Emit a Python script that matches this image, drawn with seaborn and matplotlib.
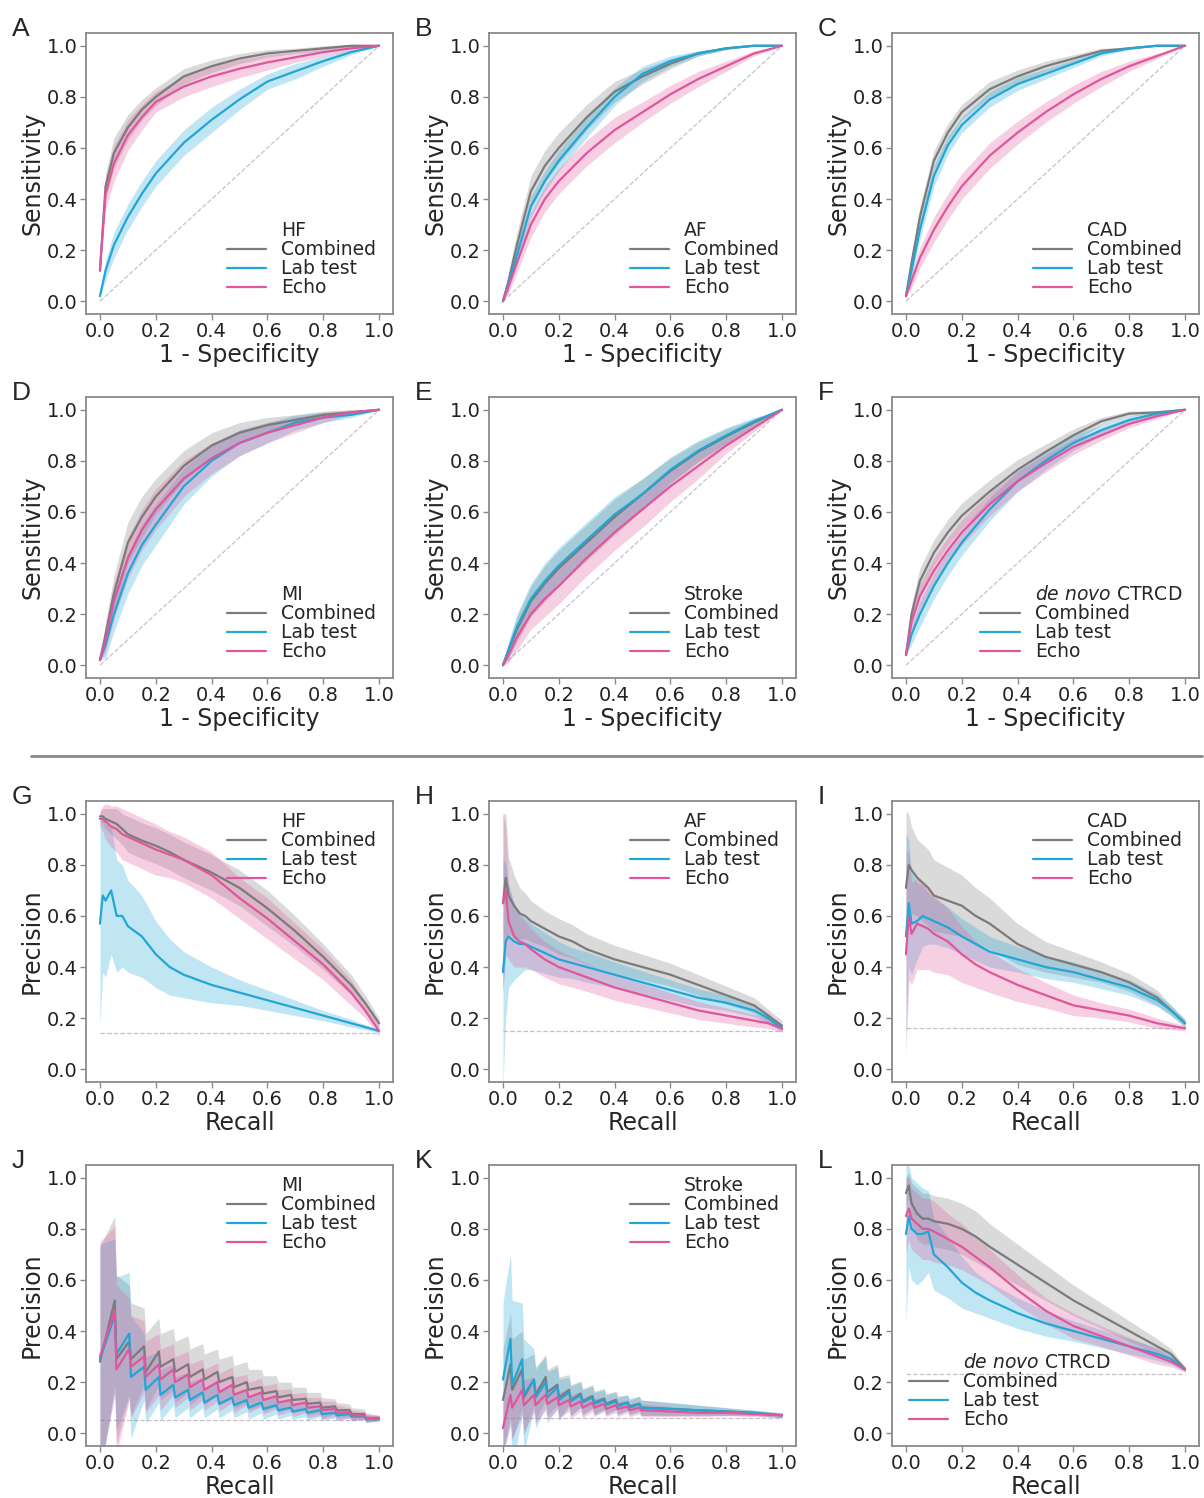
import numpy as np
import pandas as pd
import matplotlib
matplotlib.use("Agg")
import matplotlib.pyplot as plt
import seaborn as sns
from matplotlib.lines import Line2D

sns.set_theme(style="ticks")
plt.rcParams['font.family'] = ['DejaVu Sans']
plt.rcParams['mathtext.fontset'] = 'dejavusans'

# ---------------- data ----------------
SERIES = ["Combined", "Lab test", "Echo"]
COLORS = {"Combined": "#7b7b7b", "Lab test": "#22a6d6", "Echo": "#e0569c"}

ROC_X = [0, 0.02, 0.05, 0.1, 0.15, 0.2, 0.3, 0.4, 0.5, 0.6, 0.7, 0.8, 0.9, 1.0]

# Panel A - HF ROC
A_COMB = [0.12, 0.45, 0.58, 0.68, 0.75, 0.80, 0.88, 0.92, 0.95, 0.97, 0.98, 0.99, 1.0, 1.0]
A_LAB = [0.02, 0.12, 0.22, 0.33, 0.42, 0.50, 0.62, 0.71, 0.79, 0.86, 0.90, 0.94, 0.975, 1.0]
A_ECHO = [0.12, 0.42, 0.54, 0.65, 0.72, 0.78, 0.84, 0.88, 0.91, 0.935, 0.955, 0.975, 0.99, 1.0]
A_COMB_HW = [0, 0.05, 0.06, 0.05, 0.04, 0.035, 0.03, 0.025, 0.02, 0.015, 0.01, 0.01, 0.005, 0]
A_LAB_HW = [0, 0.04, 0.05, 0.05, 0.05, 0.05, 0.05, 0.05, 0.04, 0.03, 0.03, 0.02, 0.01, 0]
A_ECHO_HW = [0, 0.06, 0.07, 0.06, 0.05, 0.04, 0.04, 0.04, 0.035, 0.03, 0.02, 0.015, 0.01, 0]

# Panel B - AF ROC
B_COMB = [0.0, 0.08, 0.22, 0.43, 0.53, 0.60, 0.72, 0.82, 0.88, 0.93, 0.97, 0.99, 1.0, 1.0]
B_LAB = [0.0, 0.07, 0.18, 0.37, 0.47, 0.55, 0.68, 0.80, 0.89, 0.94, 0.97, 0.99, 1.0, 1.0]
B_ECHO = [0.0, 0.06, 0.15, 0.30, 0.40, 0.47, 0.58, 0.67, 0.74, 0.81, 0.87, 0.92, 0.97, 1.0]
B_COMB_HW = [0, 0.03, 0.05, 0.06, 0.06, 0.06, 0.05, 0.04, 0.03, 0.02, 0.01, 0.005, 0, 0]
B_LAB_HW = [0, 0.03, 0.04, 0.04, 0.04, 0.04, 0.04, 0.035, 0.03, 0.02, 0.01, 0.005, 0, 0]
B_ECHO_HW = [0, 0.03, 0.04, 0.05, 0.05, 0.05, 0.05, 0.05, 0.04, 0.035, 0.03, 0.02, 0.01, 0]

# Panel C - CAD ROC
C_COMB = [0.02, 0.15, 0.33, 0.55, 0.66, 0.74, 0.83, 0.88, 0.92, 0.95, 0.98, 0.99, 1.0, 1.0]
C_LAB = [0.02, 0.12, 0.28, 0.49, 0.61, 0.69, 0.79, 0.85, 0.89, 0.93, 0.97, 0.99, 1.0, 1.0]
C_ECHO = [0.02, 0.08, 0.17, 0.28, 0.37, 0.45, 0.57, 0.66, 0.74, 0.81, 0.87, 0.92, 0.96, 1.0]
C_COMB_HW = [0, 0.03, 0.04, 0.04, 0.035, 0.03, 0.03, 0.025, 0.02, 0.015, 0.01, 0.005, 0, 0]
C_LAB_HW = [0, 0.03, 0.04, 0.04, 0.035, 0.03, 0.03, 0.025, 0.02, 0.015, 0.01, 0.005, 0, 0]
C_ECHO_HW = [0, 0.03, 0.04, 0.05, 0.05, 0.05, 0.05, 0.045, 0.04, 0.035, 0.03, 0.02, 0.01, 0]

# Panel D - MI ROC
D_COMB = [0.02, 0.12, 0.28, 0.48, 0.58, 0.66, 0.78, 0.86, 0.91, 0.94, 0.96, 0.98, 0.99, 1.0]
D_LAB = [0.02, 0.08, 0.20, 0.36, 0.47, 0.55, 0.70, 0.80, 0.87, 0.91, 0.95, 0.97, 0.98, 1.0]
D_ECHO = [0.02, 0.10, 0.25, 0.42, 0.53, 0.61, 0.73, 0.81, 0.87, 0.91, 0.94, 0.97, 0.99, 1.0]
D_COMB_HW = [0, 0.05, 0.07, 0.08, 0.08, 0.07, 0.06, 0.05, 0.04, 0.03, 0.02, 0.015, 0.01, 0]
D_LAB_HW = [0, 0.05, 0.07, 0.08, 0.08, 0.08, 0.07, 0.06, 0.05, 0.04, 0.03, 0.02, 0.01, 0]
D_ECHO_HW = [0, 0.05, 0.07, 0.08, 0.08, 0.08, 0.07, 0.06, 0.05, 0.04, 0.03, 0.02, 0.01, 0]

# Panel E - Stroke ROC
E_COMB = [0.0, 0.06, 0.14, 0.25, 0.32, 0.38, 0.48, 0.58, 0.67, 0.76, 0.835, 0.895, 0.95, 1.0]
E_LAB = [0.0, 0.06, 0.15, 0.26, 0.33, 0.39, 0.49, 0.59, 0.67, 0.765, 0.84, 0.90, 0.955, 1.0]
E_ECHO = [0.0, 0.04, 0.11, 0.20, 0.26, 0.31, 0.42, 0.52, 0.61, 0.70, 0.78, 0.86, 0.93, 1.0]
E_COMB_HW = [0, 0.03, 0.05, 0.06, 0.07, 0.07, 0.07, 0.07, 0.06, 0.05, 0.04, 0.03, 0.015, 0]
E_LAB_HW = [0, 0.03, 0.05, 0.06, 0.07, 0.07, 0.07, 0.07, 0.06, 0.05, 0.04, 0.03, 0.015, 0]
E_ECHO_HW = [0, 0.03, 0.05, 0.06, 0.07, 0.07, 0.07, 0.07, 0.07, 0.06, 0.05, 0.03, 0.015, 0]

# Panel F - de novo CTRCD ROC
F_COMB = [0.04, 0.20, 0.33, 0.44, 0.52, 0.585, 0.68, 0.765, 0.835, 0.90, 0.955, 0.985, 0.99, 1.0]
F_LAB = [0.04, 0.12, 0.20, 0.31, 0.40, 0.48, 0.61, 0.72, 0.80, 0.87, 0.92, 0.96, 0.985, 1.0]
F_ECHO = [0.04, 0.17, 0.27, 0.37, 0.45, 0.52, 0.63, 0.72, 0.79, 0.855, 0.90, 0.945, 0.975, 1.0]
F_COMB_HW = [0, 0.04, 0.05, 0.05, 0.05, 0.05, 0.045, 0.04, 0.03, 0.025, 0.015, 0.01, 0.005, 0]
F_LAB_HW = [0, 0.04, 0.05, 0.05, 0.05, 0.05, 0.045, 0.04, 0.035, 0.03, 0.02, 0.015, 0.01, 0]
F_ECHO_HW = [0, 0.04, 0.05, 0.05, 0.05, 0.05, 0.045, 0.04, 0.035, 0.03, 0.02, 0.015, 0.01, 0]

PR_X = [0, 0.01, 0.02, 0.04, 0.06, 0.08, 0.1, 0.15, 0.2, 0.25, 0.3, 0.4, 0.5, 0.6, 0.7, 0.8, 0.9, 0.95, 1.0]

# Panel G - HF PR
G_COMB = [0.99, 0.99, 0.98, 0.97, 0.96, 0.94, 0.92, 0.895, 0.875, 0.85, 0.82, 0.77, 0.71, 0.63, 0.54, 0.44, 0.33, 0.26, 0.18]
G_LAB = [0.57, 0.68, 0.66, 0.70, 0.60, 0.60, 0.56, 0.52, 0.45, 0.40, 0.37, 0.33, 0.30, 0.27, 0.24, 0.21, 0.18, 0.165, 0.15]
G_ECHO = [0.98, 0.98, 0.97, 0.95, 0.94, 0.92, 0.91, 0.885, 0.86, 0.84, 0.82, 0.76, 0.67, 0.59, 0.50, 0.41, 0.30, 0.23, 0.15]
G_COMB_HW = [0.02, 0.03, 0.04, 0.05, 0.06, 0.06, 0.07, 0.07, 0.07, 0.07, 0.07, 0.07, 0.07, 0.07, 0.06, 0.05, 0.04, 0.03, 0.02]
G_LAB_HW = [0.40, 0.30, 0.30, 0.25, 0.22, 0.20, 0.18, 0.16, 0.13, 0.11, 0.09, 0.07, 0.05, 0.04, 0.03, 0.02, 0.015, 0.01, 0.005]
G_ECHO_HW = [0.03, 0.05, 0.07, 0.08, 0.09, 0.10, 0.10, 0.10, 0.10, 0.09, 0.09, 0.09, 0.08, 0.08, 0.07, 0.06, 0.05, 0.03, 0.02]
G_BASE = 0.14

# Panel H - AF PR
H_COMB = [0.65, 0.75, 0.68, 0.64, 0.61, 0.60, 0.58, 0.55, 0.52, 0.50, 0.47, 0.43, 0.40, 0.37, 0.33, 0.29, 0.25, 0.21, 0.17]
H_LAB = [0.38, 0.50, 0.52, 0.50, 0.49, 0.49, 0.48, 0.455, 0.43, 0.415, 0.40, 0.37, 0.34, 0.31, 0.28, 0.26, 0.23, 0.20, 0.16]
H_ECHO = [0.65, 0.70, 0.58, 0.52, 0.50, 0.49, 0.47, 0.43, 0.40, 0.38, 0.36, 0.32, 0.29, 0.26, 0.23, 0.21, 0.19, 0.18, 0.16]
H_COMB_HW = [0.35, 0.25, 0.15, 0.12, 0.10, 0.09, 0.08, 0.07, 0.07, 0.065, 0.06, 0.055, 0.05, 0.045, 0.04, 0.035, 0.03, 0.025, 0.02]
H_LAB_HW = [0.45, 0.30, 0.20, 0.15, 0.12, 0.10, 0.09, 0.08, 0.07, 0.06, 0.06, 0.05, 0.045, 0.04, 0.035, 0.03, 0.025, 0.02, 0.015]
H_ECHO_HW = [0.35, 0.25, 0.15, 0.12, 0.10, 0.09, 0.08, 0.07, 0.065, 0.06, 0.055, 0.05, 0.045, 0.04, 0.035, 0.03, 0.025, 0.02, 0.015]
H_BASE = 0.15

# Panel I - CAD PR
I_COMB = [0.71, 0.80, 0.78, 0.75, 0.73, 0.71, 0.68, 0.66, 0.64, 0.60, 0.57, 0.49, 0.44, 0.41, 0.38, 0.34, 0.28, 0.23, 0.18]
I_LAB = [0.52, 0.65, 0.57, 0.58, 0.60, 0.59, 0.58, 0.555, 0.52, 0.49, 0.46, 0.43, 0.40, 0.38, 0.35, 0.32, 0.27, 0.23, 0.18]
I_ECHO = [0.45, 0.60, 0.53, 0.57, 0.56, 0.55, 0.53, 0.50, 0.45, 0.41, 0.38, 0.33, 0.29, 0.25, 0.23, 0.21, 0.18, 0.17, 0.16]
I_COMB_HW = [0.30, 0.20, 0.17, 0.15, 0.15, 0.15, 0.14, 0.13, 0.12, 0.11, 0.10, 0.08, 0.06, 0.05, 0.04, 0.035, 0.03, 0.02, 0.015]
I_LAB_HW = [0.40, 0.25, 0.20, 0.15, 0.12, 0.10, 0.09, 0.08, 0.07, 0.065, 0.06, 0.05, 0.045, 0.04, 0.035, 0.03, 0.025, 0.02, 0.015]
I_ECHO_HW = [0.40, 0.25, 0.20, 0.18, 0.17, 0.16, 0.15, 0.13, 0.11, 0.09, 0.08, 0.065, 0.05, 0.04, 0.03, 0.025, 0.02, 0.015, 0.01]
I_BASE = 0.16

# Panel J - MI PR (step-like curve)
J_X = [0, 0.053, 0.059, 0.105, 0.111, 0.158, 0.164, 0.211, 0.217, 0.263, 0.269, 0.316, 0.322,
       0.368, 0.374, 0.421, 0.427, 0.474, 0.480, 0.526, 0.532, 0.579, 0.585, 0.632, 0.638,
       0.684, 0.690, 0.737, 0.743, 0.789, 0.795, 0.842, 0.848, 0.895, 0.901, 0.947, 0.953, 1.0]
J_COMB = [0.28, 0.52, 0.29, 0.36, 0.29, 0.34, 0.24, 0.32, 0.26, 0.29, 0.24, 0.27, 0.22, 0.25, 0.21,
          0.24, 0.20, 0.22, 0.18, 0.20, 0.17, 0.18, 0.155, 0.165, 0.14, 0.15, 0.13, 0.135, 0.115,
          0.12, 0.10, 0.105, 0.09, 0.09, 0.075, 0.075, 0.06, 0.06]
J_LAB = [0.29, 0.46, 0.31, 0.39, 0.22, 0.26, 0.17, 0.22, 0.15, 0.19, 0.14, 0.17, 0.13, 0.16, 0.12,
         0.15, 0.115, 0.14, 0.11, 0.13, 0.10, 0.12, 0.095, 0.11, 0.09, 0.10, 0.085, 0.095, 0.08,
         0.09, 0.075, 0.08, 0.07, 0.075, 0.065, 0.065, 0.055, 0.055]
J_ECHO = [0.30, 0.48, 0.25, 0.33, 0.26, 0.30, 0.22, 0.27, 0.21, 0.25, 0.20, 0.23, 0.18, 0.21, 0.17,
          0.20, 0.16, 0.19, 0.15, 0.17, 0.14, 0.16, 0.13, 0.145, 0.12, 0.13, 0.11, 0.12, 0.10,
          0.105, 0.09, 0.095, 0.08, 0.08, 0.07, 0.07, 0.06, 0.06]
J_COMB_HW = [0.45, 0.33, 0.33, 0.22, 0.22, 0.15, 0.15, 0.13, 0.13, 0.12, 0.12, 0.11, 0.11, 0.10, 0.10,
             0.09, 0.09, 0.085, 0.085, 0.08, 0.08, 0.07, 0.07, 0.06, 0.06, 0.05, 0.05, 0.045, 0.045,
             0.04, 0.04, 0.03, 0.03, 0.025, 0.025, 0.02, 0.02, 0.01]
J_LAB_HW = [0.45, 0.30, 0.30, 0.24, 0.24, 0.13, 0.13, 0.10, 0.10, 0.08, 0.08, 0.07, 0.07, 0.06, 0.06,
            0.055, 0.055, 0.05, 0.05, 0.045, 0.045, 0.04, 0.04, 0.035, 0.035, 0.03, 0.03, 0.03, 0.03,
            0.025, 0.025, 0.02, 0.02, 0.015, 0.015, 0.01, 0.01, 0.01]
J_ECHO_HW = [0.45, 0.33, 0.33, 0.20, 0.20, 0.14, 0.14, 0.12, 0.12, 0.10, 0.10, 0.09, 0.09, 0.08, 0.08,
             0.075, 0.075, 0.07, 0.07, 0.06, 0.06, 0.055, 0.055, 0.05, 0.05, 0.045, 0.045, 0.04, 0.04,
             0.035, 0.035, 0.03, 0.03, 0.02, 0.02, 0.015, 0.015, 0.01]
J_BASE = 0.05

# Panel K - Stroke PR (step-like curve)
K_X = [0, 0.027, 0.033, 0.069, 0.075, 0.111, 0.117, 0.153, 0.159, 0.195, 0.201, 0.237, 0.243,
       0.279, 0.285, 0.321, 0.327, 0.363, 0.369, 0.405, 0.411, 0.447, 0.453, 0.489, 0.495,
       0.6, 0.7, 0.8, 0.9, 1.0]
K_COMB = [0.13, 0.27, 0.17, 0.25, 0.14, 0.21, 0.15, 0.22, 0.16, 0.19, 0.14, 0.17, 0.13, 0.155, 0.125,
          0.145, 0.12, 0.135, 0.115, 0.13, 0.11, 0.12, 0.105, 0.115, 0.10, 0.095, 0.09, 0.085, 0.08, 0.07]
K_LAB = [0.21, 0.37, 0.19, 0.29, 0.15, 0.21, 0.14, 0.20, 0.14, 0.18, 0.13, 0.16, 0.125, 0.15, 0.12,
         0.14, 0.115, 0.13, 0.11, 0.125, 0.105, 0.12, 0.10, 0.115, 0.10, 0.095, 0.09, 0.085, 0.08, 0.07]
K_ECHO = [0.02, 0.15, 0.10, 0.17, 0.11, 0.15, 0.11, 0.15, 0.115, 0.14, 0.11, 0.13, 0.105, 0.125, 0.10,
          0.12, 0.10, 0.115, 0.095, 0.11, 0.095, 0.105, 0.09, 0.10, 0.09, 0.085, 0.08, 0.08, 0.075, 0.07]
K_COMB_HW = [0.20, 0.20, 0.20, 0.15, 0.15, 0.10, 0.10, 0.09, 0.09, 0.08, 0.08, 0.06, 0.06, 0.05, 0.05,
             0.045, 0.045, 0.04, 0.04, 0.035, 0.035, 0.03, 0.03, 0.03, 0.03, 0.025, 0.02, 0.015, 0.01, 0.01]
K_LAB_HW = [0.30, 0.33, 0.33, 0.22, 0.22, 0.12, 0.12, 0.10, 0.10, 0.08, 0.08, 0.06, 0.06, 0.05, 0.05,
            0.045, 0.045, 0.04, 0.04, 0.035, 0.035, 0.03, 0.03, 0.03, 0.03, 0.025, 0.02, 0.015, 0.01, 0.01]
K_ECHO_HW = [0.10, 0.12, 0.12, 0.10, 0.10, 0.07, 0.07, 0.06, 0.06, 0.05, 0.05, 0.045, 0.045, 0.04, 0.04,
             0.035, 0.035, 0.03, 0.03, 0.03, 0.03, 0.025, 0.025, 0.025, 0.025, 0.02, 0.015, 0.012, 0.01, 0.008]
K_BASE = 0.06

# Panel L - de novo CTRCD PR
L_COMB = [0.94, 0.97, 0.90, 0.86, 0.84, 0.84, 0.83, 0.82, 0.80, 0.77, 0.73, 0.66, 0.59, 0.52, 0.46, 0.40, 0.34, 0.31, 0.25]
L_LAB = [0.78, 0.85, 0.80, 0.78, 0.78, 0.79, 0.70, 0.65, 0.59, 0.55, 0.52, 0.47, 0.43, 0.40, 0.37, 0.34, 0.31, 0.29, 0.25]
L_ECHO = [0.85, 0.88, 0.84, 0.82, 0.80, 0.80, 0.79, 0.76, 0.73, 0.69, 0.65, 0.56, 0.48, 0.42, 0.38, 0.34, 0.30, 0.28, 0.25]
L_COMB_HW = [0.06, 0.05, 0.08, 0.10, 0.10, 0.10, 0.10, 0.10, 0.10, 0.10, 0.09, 0.08, 0.07, 0.06, 0.05, 0.04, 0.03, 0.02, 0.01]
L_LAB_HW = [0.35, 0.20, 0.20, 0.20, 0.18, 0.16, 0.14, 0.12, 0.10, 0.08, 0.07, 0.06, 0.05, 0.04, 0.035, 0.03, 0.025, 0.02, 0.01]
L_ECHO_HW = [0.15, 0.12, 0.12, 0.12, 0.12, 0.12, 0.12, 0.10, 0.09, 0.08, 0.07, 0.06, 0.05, 0.05, 0.04, 0.035, 0.03, 0.02, 0.01]
L_BASE = 0.23

PANELS = [
    ("A", "HF", "roc", ROC_X, (A_COMB, A_LAB, A_ECHO), (A_COMB_HW, A_LAB_HW, A_ECHO_HW), None),
    ("B", "AF", "roc", ROC_X, (B_COMB, B_LAB, B_ECHO), (B_COMB_HW, B_LAB_HW, B_ECHO_HW), None),
    ("C", "CAD", "roc", ROC_X, (C_COMB, C_LAB, C_ECHO), (C_COMB_HW, C_LAB_HW, C_ECHO_HW), None),
    ("D", "MI", "roc", ROC_X, (D_COMB, D_LAB, D_ECHO), (D_COMB_HW, D_LAB_HW, D_ECHO_HW), None),
    ("E", "Stroke", "roc", ROC_X, (E_COMB, E_LAB, E_ECHO), (E_COMB_HW, E_LAB_HW, E_ECHO_HW), None),
    ("F", r"$\it{de\ novo}$ CTRCD", "roc", ROC_X, (F_COMB, F_LAB, F_ECHO), (F_COMB_HW, F_LAB_HW, F_ECHO_HW), None),
    ("G", "HF", "pr", PR_X, (G_COMB, G_LAB, G_ECHO), (G_COMB_HW, G_LAB_HW, G_ECHO_HW), G_BASE),
    ("H", "AF", "pr", PR_X, (H_COMB, H_LAB, H_ECHO), (H_COMB_HW, H_LAB_HW, H_ECHO_HW), H_BASE),
    ("I", "CAD", "pr", PR_X, (I_COMB, I_LAB, I_ECHO), (I_COMB_HW, I_LAB_HW, I_ECHO_HW), I_BASE),
    ("J", "MI", "pr", J_X, (J_COMB, J_LAB, J_ECHO), (J_COMB_HW, J_LAB_HW, J_ECHO_HW), J_BASE),
    ("K", "Stroke", "pr", K_X, (K_COMB, K_LAB, K_ECHO), (K_COMB_HW, K_LAB_HW, K_ECHO_HW), K_BASE),
    ("L", r"$\it{de\ novo}$ CTRCD", "pr", PR_X, (L_COMB, L_LAB, L_ECHO), (L_COMB_HW, L_LAB_HW, L_ECHO_HW), L_BASE),
]

# ---------------- layout ----------------
W, H = 1204, 1498
fig = plt.figure(figsize=(W / 100, H / 100), dpi=100)
COL_LEFT = [86, 489, 892]
ROW_TOP = [33, 397, 801, 1165]
AX_W, AX_H = 307, 281
SPINE = "#8a8a8a"

for idx, (letter, title, kind, xs, ys, hws, base) in enumerate(PANELS):
    r, c = divmod(idx, 3)
    left, top = COL_LEFT[c], ROW_TOP[r]
    ax = fig.add_axes([left / W, 1 - (top + AX_H) / H, AX_W / W, AX_H / H])

    for name, yv, hw in zip(SERIES, ys, hws):
        x = np.asarray(xs, float)
        y = np.asarray(yv, float)
        h = np.asarray(hw, float)
        ax.fill_between(x, y - h, y + h, color=COLORS[name], alpha=0.28, lw=0)
        df = pd.DataFrame({"x": x, "y": y})
        sns.lineplot(data=df, x="x", y="y", ax=ax, color=COLORS[name], lw=1.6,
                     estimator=None, sort=False, legend=False)

    if kind == "roc":
        ax.plot([0, 1], [0, 1], ls="--", color="#c4c4c4", lw=0.9, zorder=0)
        ax.set_xlabel("1 - Specificity", fontsize=17, labelpad=1)
        ax.set_ylabel("Sensitivity", fontsize=17, labelpad=2)
    else:
        ax.plot([0, 1], [base, base], ls="--", color="#c9bfcb", lw=0.9, zorder=0)
        ax.set_xlabel("Recall", fontsize=17, labelpad=1)
        ax.set_ylabel("Precision", fontsize=17, labelpad=2)

    ax.set_xlim(-0.05, 1.05)
    ax.set_ylim(-0.05, 1.05)
    ticks = [0.0, 0.2, 0.4, 0.6, 0.8, 1.0]
    ax.set_xticks(ticks)
    ax.set_yticks(ticks)
    ax.set_xticklabels([f"{t:.1f}" for t in ticks])
    ax.set_yticklabels([f"{t:.1f}" for t in ticks])
    ax.tick_params(labelsize=14, length=4, width=1, color=SPINE, colors="#222222", pad=2)
    ax.tick_params(color=SPINE)
    for sp in ax.spines.values():
        sp.set_color(SPINE)
        sp.set_linewidth(1.3)

    handles = [Line2D([], [], ls="none", label=title)]
    for name in SERIES:
        handles.append(Line2D([], [], color=COLORS[name], lw=1.6, label=name))
    if kind == "roc":
        loc, anchor = "lower right", (1.0, 0.0)
    elif letter == "L":
        loc, anchor = "lower left", (0.0, 0.0)
    else:
        loc, anchor = "upper right", (1.0, 1.02)
    ax.legend(handles=handles, loc=loc, bbox_to_anchor=anchor, frameon=False,
              fontsize=13.5, handlelength=2.1, handletextpad=0.8, labelspacing=0.0,
              borderaxespad=0.5, borderpad=0.4)

    fig.text((left - 74) / W, 1 - (top - 16) / H, letter, fontsize=19,
             family=["Liberation Sans", "DejaVu Sans"], va="top", ha="left")

# separator line between ROC and PR panels
fig.add_artist(Line2D([31 / W, 1202 / W], [1 - 756 / H, 1 - 756 / H], color="#8a8a8a", lw=2,
                      transform=fig.transFigure))

fig.savefig("out.png", dpi=100)
